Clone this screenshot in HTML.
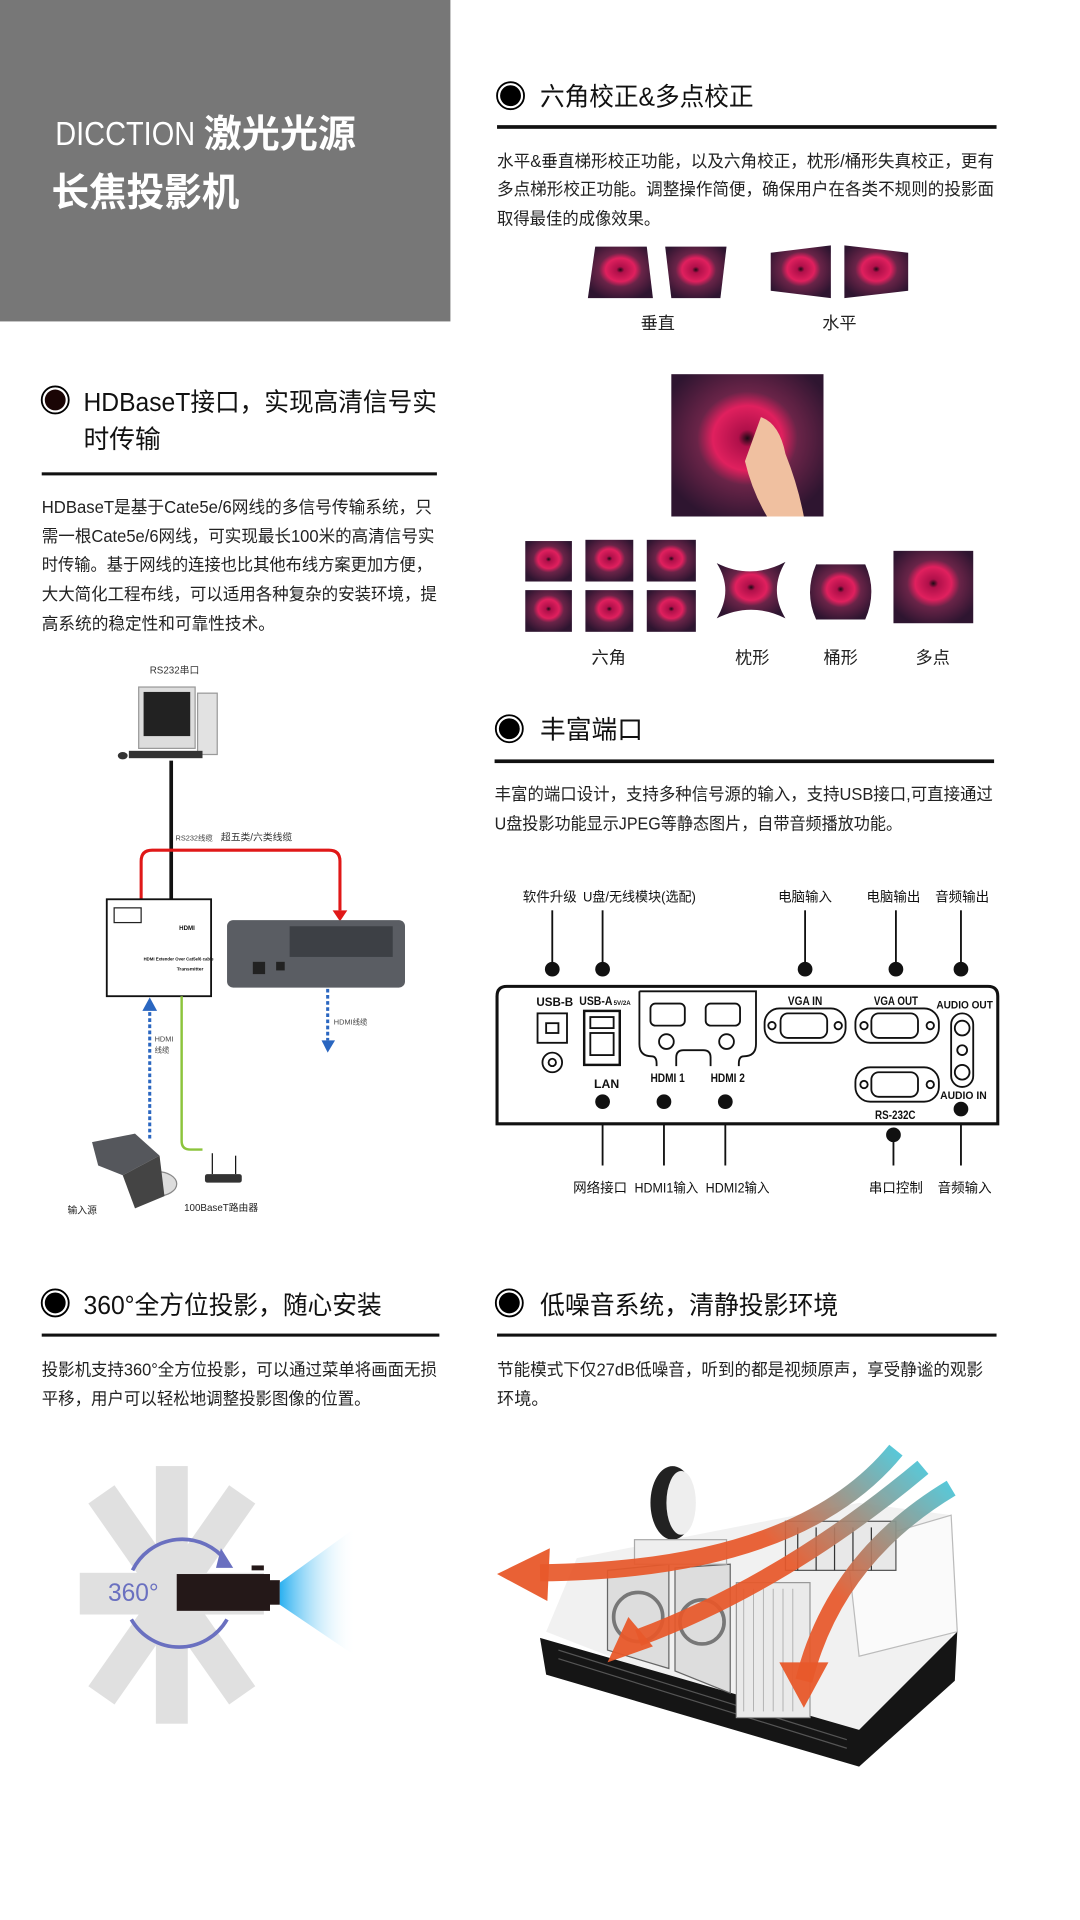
<!DOCTYPE html>
<html><head><meta charset="utf-8"><style>
html,body{margin:0;padding:0;background:#fff;width:1080px;height:1920px;overflow:hidden}
svg{display:block}
text{font-family:"Liberation Sans","Noto Sans CJK SC",sans-serif;fill:#111}
.h{font-size:21px}
.p{font-size:14px;fill:#222}
.s{font-size:12px;fill:#222}
.pl{font-size:10px;font-weight:bold;fill:#111}
</style></head><body>
<svg width="1080" height="1920" viewBox="0 0 880 1565" preserveAspectRatio="none" xmlns="http://www.w3.org/2000/svg">
<defs>
<radialGradient id="fl" cx="0.5" cy="0.45" r="0.6">
<stop offset="0" stop-color="#1a0a14"/><stop offset="0.1" stop-color="#b0104a"/><stop offset="0.38" stop-color="#e0205e"/><stop offset="0.55" stop-color="#6a2448"/><stop offset="1" stop-color="#2e1530"/>
</radialGradient>
<linearGradient id="beam" x1="0" x2="1"><stop offset="0" stop-color="#2ab0f0"/><stop offset="1" stop-color="#fff" stop-opacity="0"/></linearGradient>
<linearGradient id="g1" gradientUnits="userSpaceOnUse" x1="735" y1="1180" x2="640" y2="1270"><stop offset="0" stop-color="#45c8dc"/><stop offset="1" stop-color="#e8582a"/></linearGradient>
<linearGradient id="g2" gradientUnits="userSpaceOnUse" x1="760" y1="1195" x2="660" y2="1290"><stop offset="0" stop-color="#45c8dc"/><stop offset="1" stop-color="#e8582a"/></linearGradient>
<linearGradient id="g3" gradientUnits="userSpaceOnUse" x1="785" y1="1215" x2="690" y2="1310"><stop offset="0" stop-color="#45c8dc"/><stop offset="1" stop-color="#e8582a"/></linearGradient>
</defs>

<rect x="0" y="0" width="367" height="262" fill="#777"/>
<text x="45" y="118" style="font-size:27px;fill:#fff" textLength="114" lengthAdjust="spacingAndGlyphs">DICCTION</text>
<text x="166" y="120" style="font-size:31px;font-weight:bold;fill:#fff" textLength="124" lengthAdjust="spacingAndGlyphs">激光光源</text>
<text x="42" y="168" style="font-size:32px;font-weight:bold;fill:#fff" textLength="153" lengthAdjust="spacingAndGlyphs">长焦投影机</text>

<circle cx="416" cy="78" r="11" fill="#fff" stroke="#000" stroke-width="1.5"/><circle cx="416" cy="78" r="8.5" fill="#000"/>
<text class="h" x="440" y="86" textLength="174" lengthAdjust="spacingAndGlyphs">六角校正&amp;多点校正</text>
<rect x="405" y="102" width="407" height="3" fill="#111"/>
<text class="p" x="405" y="136" textLength="405" lengthAdjust="spacingAndGlyphs">水平&amp;垂直梯形校正功能，以及六角校正，枕形/桶形失真校正，更有</text>
<text class="p" x="405" y="159" textLength="405" lengthAdjust="spacingAndGlyphs">多点梯形校正功能。调整操作简便，确保用户在各类不规则的投影面</text>
<text class="p" x="405" y="183" textLength="133" lengthAdjust="spacingAndGlyphs">取得最佳的成像效果。</text>

<polygon points="485,201 527,201 532,243 479,243" fill="url(#fl)"/>
<polygon points="542,201 592,201 587,243 547,243" fill="url(#fl)"/>
<polygon points="628,206 677,200 677,243 628,237" fill="url(#fl)"/>
<polygon points="688,200 740,206 740,237 688,243" fill="url(#fl)"/>
<text class="s" x="522" y="268" style="font-size:14px">垂直</text>
<text class="s" x="670" y="268" style="font-size:14px">水平</text>

<rect x="547" y="305" width="124" height="116" fill="url(#fl)"/>
<path d="M620,340 q15,5 20,30 q10,25 15,51 h-30 q-12,-20 -18,-45z" fill="#f0c0a0"/>

<g fill="url(#fl)">
<rect x="428" y="441" width="38" height="33"/><rect x="477" y="440" width="39" height="34"/><rect x="527" y="440" width="40" height="34"/>
<rect x="428" y="481" width="38" height="34"/><rect x="477" y="481" width="39" height="34"/><rect x="527" y="481" width="40" height="34"/>
<path d="M584,459 q28,14 56,-1 q-14,23 0,46 q-28,-14 -56,0 q14,-23 0,-45z"/>
<path d="M665,460 h40 q10,22 0,45 h-40 q-10,-22 0,-45z"/>
<rect x="728" y="449" width="65" height="59"/>
</g>
<text class="s" x="482" y="541" style="font-size:14px">六角</text>
<text class="s" x="599" y="541" style="font-size:14px">枕形</text>
<text class="s" x="671" y="541" style="font-size:14px">桶形</text>
<text class="s" x="746" y="541" style="font-size:14px">多点</text>

<circle cx="45" cy="326" r="11" fill="#fff" stroke="#000" stroke-width="1.5"/><circle cx="45" cy="326" r="8.5" fill="#1a0505"/>
<text class="h" x="68" y="335" textLength="288" lengthAdjust="spacingAndGlyphs">HDBaseT接口，实现高清信号实</text>
<text class="h" x="68" y="365">时传输</text>
<rect x="34" y="385" width="322" height="2.5" fill="#111"/>
<text class="p" x="34" y="418" textLength="318" lengthAdjust="spacingAndGlyphs">HDBaseT是基于Cate5e/6网线的多信号传输系统，只</text>
<text class="p" x="34" y="442" textLength="320" lengthAdjust="spacingAndGlyphs">需一根Cate5e/6网线，可实现最长100米的高清信号实</text>
<text class="p" x="34" y="465" textLength="318" lengthAdjust="spacingAndGlyphs">时传输。基于网线的连接也比其他布线方案更加方便，</text>
<text class="p" x="34" y="489" textLength="322" lengthAdjust="spacingAndGlyphs">大大简化工程布线，可以适用各种复杂的安装环境，提</text>
<text class="p" x="34" y="513" textLength="190" lengthAdjust="spacingAndGlyphs">高系统的稳定性和可靠性技术。</text>

<text x="122" y="549" style="font-size:8px;fill:#333">RS232串口</text>
<rect x="113" y="560" width="46" height="50" fill="#ddd" stroke="#999"/><rect x="117" y="564" width="38" height="36" fill="#222"/>
<rect x="161" y="565" width="16" height="50" fill="#e2e2e2" stroke="#999"/>
<rect x="105" y="612" width="60" height="6" fill="#333"/><ellipse cx="100" cy="616" rx="4" ry="3" fill="#333"/>
<rect x="138" y="620" width="3" height="114" fill="#111"/>
<path d="M115,733 V702 q0,-9 9,-9 H268 q9,0 9,9 V742" fill="none" stroke="#e01818" stroke-width="2.5"/>
<polygon points="271,742 283,742 277,751" fill="#e01818"/>
<text x="143" y="685" style="font-size:6px;fill:#444">RS232线缆</text>
<text x="180" y="685" style="font-size:8px;fill:#333">超五类/六类线缆</text>
<rect x="87" y="733" width="85" height="79" fill="#fff" stroke="#111" stroke-width="1.5"/>
<rect x="93" y="740" width="22" height="12" fill="none" stroke="#222"/>
<text x="146" y="758" style="font-size:5px;font-weight:bold">HDMI</text>
<text x="117" y="783" style="font-size:3.5px;font-weight:bold">HDMI Extender Over Cat5e/6 cable</text>
<text x="144" y="791" style="font-size:4px;font-weight:bold">Transmitter</text>
<rect x="185" y="750" width="145" height="55" rx="5" fill="#5a5d63"/>
<rect x="236" y="755" width="84" height="25" fill="#3d4045"/>
<rect x="206" y="784" width="10" height="10" fill="#222"/><rect x="225" y="784" width="7" height="7" fill="#222"/>
<line x1="267" y1="806" x2="267" y2="848" stroke="#2a66c0" stroke-width="2.5" stroke-dasharray="3,2"/>
<polygon points="262,848 273,848 267,858" fill="#2a66c0"/>
<text x="272" y="835" style="font-size:6px;fill:#444">HDMI线缆</text>
<line x1="122" y1="820" x2="122" y2="930" stroke="#2a66c0" stroke-width="2.5" stroke-dasharray="3,2"/>
<polygon points="116,824 128,824 122,813" fill="#2a66c0"/>
<text x="126" y="849" style="font-size:6px;fill:#444">HDMI</text><text x="126" y="858" style="font-size:6px;fill:#444">线缆</text>
<path d="M148,812 V930 q0,7 7,7 H165" fill="none" stroke="#8cc43c" stroke-width="2"/>
<polygon points="75,931 110,924 130,942 100,958 80,950" fill="#55575c"/>
<ellipse cx="128" cy="965" rx="16" ry="10" fill="#ddd" stroke="#888"/>
<polygon points="100,958 130,942 134,975 110,985" fill="#444"/>
<text x="55" y="989" style="font-size:8px;fill:#222">输入源</text>
<rect x="167" y="957" width="30" height="7" rx="2" fill="#333"/><line x1="173" y1="940" x2="173" y2="957" stroke="#111"/><line x1="192" y1="942" x2="192" y2="957" stroke="#111"/>
<text x="150" y="987" style="font-size:8px;fill:#222">100BaseT路由器</text>

<circle cx="415" cy="594" r="11" fill="#fff" stroke="#000" stroke-width="1.5"/><circle cx="415" cy="594" r="8.5" fill="#000"/>
<text class="h" x="440" y="602">丰富端口</text>
<rect x="403" y="619" width="407" height="3" fill="#111"/>
<text class="p" x="403" y="652" textLength="406" lengthAdjust="spacingAndGlyphs">丰富的端口设计，支持多种信号源的输入，支持USB接口,可直接通过</text>
<text class="p" x="403" y="676" textLength="332" lengthAdjust="spacingAndGlyphs">U盘投影功能显示JPEG等静态图片，自带音频播放功能。</text>

<g class="s">
<text x="426" y="735" style="font-size:11px">软件升级</text>
<text x="475" y="735" style="font-size:11px" textLength="92" lengthAdjust="spacingAndGlyphs">U盘/无线模块(选配)</text>
<text x="634" y="735" style="font-size:11px">电脑输入</text>
<text x="706" y="735" style="font-size:11px">电脑输出</text>
<text x="762" y="735" style="font-size:11px">音频输出</text>
<text x="467" y="972" style="font-size:11px">网络接口</text>
<text x="517" y="972" style="font-size:11px" textLength="52" lengthAdjust="spacingAndGlyphs">HDMI1输入</text>
<text x="575" y="972" style="font-size:11px" textLength="52" lengthAdjust="spacingAndGlyphs">HDMI2输入</text>
<text x="708" y="972" style="font-size:11px">串口控制</text>
<text x="764" y="972" style="font-size:11px">音频输入</text>
</g>
<g stroke="#111" stroke-width="1.5">
<line x1="450" y1="742" x2="450" y2="790"/><line x1="491" y1="742" x2="491" y2="790"/><line x1="656" y1="742" x2="656" y2="790"/><line x1="730" y1="742" x2="730" y2="790"/><line x1="783" y1="742" x2="783" y2="790"/>
<line x1="491" y1="897" x2="491" y2="950"/><line x1="541" y1="897" x2="541" y2="950"/><line x1="591" y1="897" x2="591" y2="950"/><line x1="728" y1="925" x2="728" y2="950"/><line x1="783" y1="903" x2="783" y2="950"/>
</g>
<path d="M405,916 V812 q0,-8 8,-8 H805 q8,0 8,8 V916 Z" fill="#fff" stroke="#111" stroke-width="2.5"/>
<g fill="#111">
<circle cx="450" cy="790" r="6"/><circle cx="491" cy="790" r="6"/><circle cx="656" cy="790" r="6"/><circle cx="730" cy="790" r="6"/><circle cx="783" cy="790" r="6"/>
<circle cx="491" cy="898" r="6"/><circle cx="541" cy="898" r="6"/><circle cx="591" cy="898" r="6"/><circle cx="728" cy="925" r="6"/><circle cx="783" cy="904" r="6"/>
</g>
<g fill="none" stroke="#111" stroke-width="1.5">
<rect x="438" y="826" width="24" height="24"/><rect x="445" y="834" width="10" height="8"/>
<circle cx="450" cy="866" r="8"/><circle cx="450" cy="866" r="3"/>
<rect x="476" y="824" width="29" height="44" stroke-width="2"/><rect x="481" y="829" width="19" height="9"/><rect x="481" y="842" width="19" height="18"/>
<path d="M521,808 H616 V851 q0,10 -10,10 q-4,0 -4,6 V869 M521,808 V851 q0,10 10,10 q4,0 4,6 V869 M579,869 V862 q0,-6 -6,-6 h-16 q-6,0 -6,6 V869"/>
<rect x="530" y="818" width="28" height="18" rx="4"/><rect x="575" y="818" width="28" height="18" rx="4"/>
<circle cx="543" cy="849" r="6"/><circle cx="592" cy="849" r="6"/>
<rect x="623" y="822" width="66" height="28" rx="12"/><rect x="636" y="826" width="38" height="20" rx="6"/><circle cx="629" cy="836" r="3"/><circle cx="683" cy="836" r="3"/>
<rect x="697" y="822" width="68" height="28" rx="12"/><rect x="710" y="826" width="38" height="20" rx="6"/><circle cx="704" cy="836" r="3"/><circle cx="758" cy="836" r="3"/>
<rect x="697" y="870" width="68" height="28" rx="12"/><rect x="710" y="874" width="38" height="20" rx="6"/><circle cx="704" cy="884" r="3"/><circle cx="758" cy="884" r="3"/>
<rect x="775" y="826" width="18" height="60" rx="9"/><circle cx="784" cy="838" r="6"/><circle cx="784" cy="874" r="6"/><circle cx="784" cy="856" r="4"/>
</g>
<g class="pl">
<text x="437" y="820" textLength="30" lengthAdjust="spacingAndGlyphs">USB-B</text><text x="472" y="819" textLength="27" lengthAdjust="spacingAndGlyphs">USB-A</text><text x="500" y="819" style="font-size:5px">5V/2A</text>
<text x="484" y="887">LAN</text><text x="530" y="882" textLength="28" lengthAdjust="spacingAndGlyphs">HDMI 1</text><text x="579" y="882" textLength="28" lengthAdjust="spacingAndGlyphs">HDMI 2</text>
<text x="642" y="819" textLength="28" lengthAdjust="spacingAndGlyphs">VGA IN</text><text x="712" y="819" textLength="36" lengthAdjust="spacingAndGlyphs">VGA OUT</text><text x="763" y="822" style="font-size:9px" textLength="46" lengthAdjust="spacingAndGlyphs">AUDIO OUT</text>
<text x="766" y="896" style="font-size:9px" textLength="38" lengthAdjust="spacingAndGlyphs">AUDIO IN</text><text x="713" y="912" textLength="33" lengthAdjust="spacingAndGlyphs">RS-232C</text>
</g>

<circle cx="45" cy="1062" r="11" fill="#fff" stroke="#000" stroke-width="1.5"/><circle cx="45" cy="1062" r="8.5" fill="#000"/>
<text class="h" x="68" y="1071" textLength="243" lengthAdjust="spacingAndGlyphs">360°全方位投影，随心安装</text>
<rect x="34" y="1087" width="324" height="2.5" fill="#111"/>
<text class="p" x="34" y="1121" textLength="322" lengthAdjust="spacingAndGlyphs">投影机支持360°全方位投影，可以通过菜单将画面无损</text>
<text class="p" x="34" y="1145" textLength="268" lengthAdjust="spacingAndGlyphs">平移，用户可以轻松地调整投影图像的位置。</text>

<g fill="#bbb" opacity="0.45">
<rect x="127" y="1195" width="26" height="210"/>
<rect x="127" y="1200" width="26" height="200" transform="rotate(35 140 1300)"/>
<rect x="127" y="1200" width="26" height="200" transform="rotate(-35 140 1300)"/>
<rect x="65" y="1282" width="150" height="34"/>
</g>
<path d="M108,1280 a45,45 0 0 1 76,-8" fill="none" stroke="#6a70c0" stroke-width="3"/>
<polygon points="180,1262 190,1278 176,1278" fill="#6a70c0"/>
<path d="M107,1320 a45,45 0 0 0 78,0" fill="none" stroke="#6a70c0" stroke-width="3"/>
<text x="88" y="1305" style="font-size:20px;fill:#6a70c0">360°</text>
<rect x="144" y="1283" width="76" height="30" fill="#241818"/>
<rect x="205" y="1276" width="10" height="4" fill="#241818"/><rect x="220" y="1288" width="8" height="20" fill="#241818"/>
<polygon points="228,1290 290,1245 290,1350 228,1308" fill="url(#beam)"/>

<circle cx="415" cy="1062" r="11" fill="#fff" stroke="#000" stroke-width="1.5"/><circle cx="415" cy="1062" r="8.5" fill="#000"/>
<text class="h" x="440" y="1071" textLength="243" lengthAdjust="spacingAndGlyphs">低噪音系统，清静投影环境</text>
<rect x="405" y="1087" width="407" height="2.5" fill="#111"/>
<text class="p" x="405" y="1121" textLength="396" lengthAdjust="spacingAndGlyphs">节能模式下仅27dB低噪音，听到的都是视频原声，享受静谧的观影</text>
<text class="p" x="405" y="1145">环境。</text>

<polygon points="445,1330 690,1425 775,1345 775,1235 700,1225 470,1270" fill="#f1f1f1"/>
<polygon points="690,1260 775,1235 780,1330 700,1350" fill="#fafafa" stroke="#bbb"/>
<polygon points="440,1335 700,1410 780,1330 778,1370 700,1440 445,1365" fill="#151515"/>
<g fill="none" stroke="#555" stroke-width="1">
<line x1="455" y1="1345" x2="690" y2="1418"/><line x1="455" y1="1352" x2="690" y2="1425"/>
</g>
<polygon points="495,1280 545,1275 545,1360 495,1345" fill="#ddd" stroke="#666"/>
<circle cx="520" cy="1318" r="20" fill="none" stroke="#777" stroke-width="3"/>
<polygon points="550,1278 595,1275 595,1380 550,1362" fill="#ddd" stroke="#666"/>
<circle cx="572" cy="1322" r="18" fill="none" stroke="#777" stroke-width="3"/>
<rect x="600" y="1290" width="60" height="110" fill="#eaeaea" stroke="#999"/>
<g stroke="#aaa" stroke-width="0.7"><line x1="606" y1="1295" x2="606" y2="1395"/><line x1="614" y1="1295" x2="614" y2="1395"/><line x1="622" y1="1295" x2="622" y2="1395"/><line x1="630" y1="1295" x2="630" y2="1395"/><line x1="638" y1="1295" x2="638" y2="1395"/><line x1="646" y1="1295" x2="646" y2="1395"/></g>
<rect x="640" y="1240" width="90" height="40" fill="#e8e8e8" stroke="#555"/>
<g stroke="#333"><line x1="650" y1="1245" x2="650" y2="1280"/><line x1="665" y1="1245" x2="665" y2="1280"/><line x1="680" y1="1245" x2="680" y2="1280"/><line x1="695" y1="1245" x2="695" y2="1280"/><line x1="710" y1="1245" x2="710" y2="1280"/></g>
<ellipse cx="548" cy="1225" rx="18" ry="30" fill="#222"/><ellipse cx="555" cy="1225" rx="12" ry="26" fill="#eee"/>
<rect x="517" y="1255" width="75" height="20" fill="#eee" stroke="#aaa"/>

<g fill="none" stroke-width="14" opacity="0.92">
<path d="M730,1182 Q650,1280 440,1282" stroke="url(#g1)"/>
<path d="M752,1196 Q640,1290 520,1335" stroke="url(#g2)"/>
<path d="M775,1213 Q680,1270 655,1370" stroke="url(#g3)"/>
</g>
<polygon points="405,1283 448,1262 446,1305" fill="#e8582a" opacity="0.95"/>
<polygon points="495,1355 512,1318 532,1342" fill="#e8582a" opacity="0.95"/>
<polygon points="635,1355 675,1355 655,1392" fill="#e8582a" opacity="0.95"/>
</svg>
</body></html>
